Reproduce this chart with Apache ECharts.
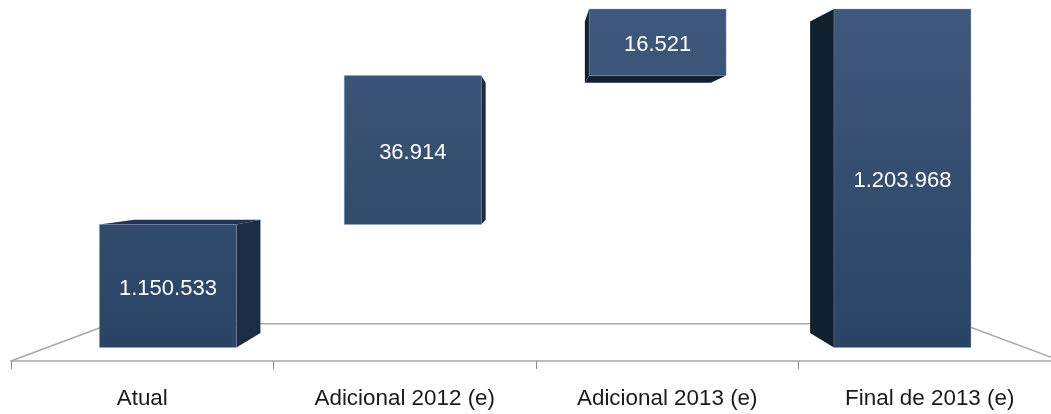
<!DOCTYPE html>
<html>
<head>
<meta charset="utf-8">
<style>html,body{margin:0;padding:0;background:#fff}#c{width:1051px;height:414px}</style>
<script src="https://cdn.jsdelivr.net/npm/echarts@6/dist/echarts.min.js"></script>
</head>
<body>
<div id="c"></div>
<script>
const categories = ['Atual', 'Adicional 2012 (e)', 'Adicional 2013 (e)', 'Final de 2013 (e)'];
const valueLabels = ['1.150.533', '36.914', '16.521', '1.203.968'];
const barFloor = [1120000, 1150533, 1187447, 1120000];
const barEnd = [1150533, 1187447, 1203968, 1203968];
const axisMin = 1116650;
const axisMax = 1203968;

const chart = echarts.init(document.getElementById('c'), null, {renderer: 'canvas'});
const FONT = '"Liberation Sans", Arial, sans-serif';
const VP_Y = 165, DEPTH = 0.08, SHIFT = 0.0673, WIDTH = 0.522, FLOOR_D = 0.19;

function renderBar(params, api) {
  const i = api.value(0);
  const g = params.coordSys;
  const band = api.size([1, 0])[0];
  const vx = g.x + 2 * band;
  const cx = api.coord([i, axisMin])[0];
  const mid = cx + SHIFT * (vx - cx) - 0.8;
  const x0 = mid - band * WIDTH / 2, x1 = mid + band * WIDTH / 2;
  const yB = api.coord([i, api.value(1)])[1];
  const yT = api.coord([i, api.value(2)])[1];
  const bx = x => x + (vx - x) * DEPTH;
  const by = y => y + (VP_Y - y) * DEPTH;
  const kids = [];
  const poly = (pts, fill) => kids.push({type: 'polygon', shape: {points: pts}, style: {fill: fill}});
  const dark = (x0 + x1) / 2 < vx ? '#1a2d45' : '#10202f';
  const sx = (x0 + x1) / 2 < vx ? x1 : x0;
  poly([[sx, yT], [bx(sx), by(yT)], [bx(sx), by(yB)], [sx, yB]], dark);
  if (yT > VP_Y) poly([[x0, yT], [x1, yT], [bx(x1), by(yT)], [bx(x0), by(yT)]], '#1f3450');
  if (yB < VP_Y) poly([[x0, yB], [x1, yB], [bx(x1), by(yB)], [bx(x0), by(yB)]], '#12202f');
  const grad = new echarts.graphic.LinearGradient(0, g.y, 0, g.y + g.height - 13, [
    {offset: 0, color: '#3f587b'}, {offset: 1, color: '#2a4465'}], true);
  kids.push({
    type: 'rect',
    shape: {x: x0, y: yT, width: x1 - x0, height: yB - yT},
    style: {fill: grad, stroke: 'rgba(150,168,190,0.3)', lineWidth: 1}
  });
  kids.push({
    type: 'text',
    style: {
      x: mid, y: (yT + yB) / 2 + 2.5, text: valueLabels[i], fill: '#fff',
      font: '22px ' + FONT, textAlign: 'center', textVerticalAlign: 'middle'
    }
  });
  return {type: 'group', children: kids};
}

function renderFloor(params, api) {
  const g = params.coordSys;
  const vx = g.x + g.width / 2, y0 = g.y + g.height;
  const back = x => x + (vx - x) * FLOOR_D;
  const yb = y0 + (VP_Y - y0) * FLOOR_D;
  return {
    type: 'polyline',
    shape: {points: [[g.x, y0], [back(g.x), yb], [back(g.x + g.width), yb], [g.x + g.width, y0]]},
    style: {fill: null, stroke: '#a8a8a8', lineWidth: 1.5}
  };
}

chart.setOption({
  animation: false,
  backgroundColor: '#fff',
  grid: {left: 11, width: 1050, top: 9, height: 352, containLabel: false, outerBoundsMode: 'none'},
  xAxis: {
    type: 'category',
    data: categories,
    axisLine: {show: true, lineStyle: {color: '#a8a8a8', width: 1.5}},
    axisTick: {show: true, length: 8, lineStyle: {color: '#8c8c8c', width: 1}},
    axisLabel: {color: '#1a1a1a', fontFamily: FONT, fontSize: 22.4, margin: 27, interval: 0},
    splitLine: {show: false}
  },
  yAxis: {type: 'value', min: axisMin, max: axisMax, show: false, splitLine: {show: false}},
  series: [
    {type: 'custom', name: 'floor', coordinateSystem: 'cartesian2d', clip: false, z: 1, silent: true,
     data: [[0, axisMin]], encode: {x: 0, y: 1}, renderItem: renderFloor},
    {type: 'custom', name: 'bars', coordinateSystem: 'cartesian2d', clip: false, z: 5, silent: true,
     data: categories.map((c, i) => [i, barFloor[i], barEnd[i]]),
     encode: {x: 0, y: [1, 2]}, renderItem: renderBar}
  ]
});
</script>
</body>
</html>
